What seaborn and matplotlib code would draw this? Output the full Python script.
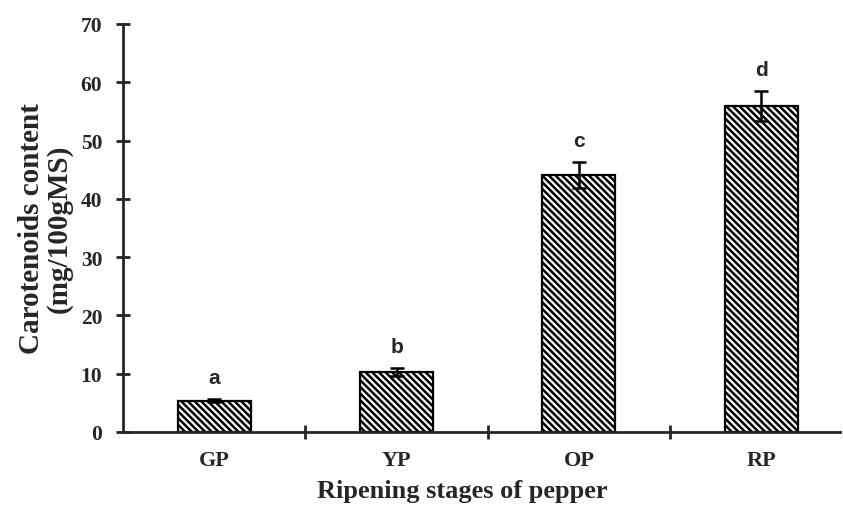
import matplotlib
matplotlib.use("Agg")
import matplotlib.pyplot as plt
import seaborn as sns
import pandas as pd

stages = ["GP", "YP", "OP", "RP"]
carotenoids = [5.4, 10.3, 44.1, 55.9]
errors = [0.3, 0.7, 2.2, 2.6]
letters = ["a", "b", "c", "d"]

sns.set_style("ticks")
plt.rcParams["font.family"] = ["Liberation Serif", "DejaVu Serif"]
plt.rcParams["hatch.linewidth"] = 1.8

df = pd.DataFrame({"stage": stages, "value": carotenoids})

fig = plt.figure(figsize=(8.43, 5.10), dpi=100)
ax = fig.add_axes([0.146, 0.151, 0.85, 0.80])
sns.barplot(data=df, x="stage", y="value", ax=ax, color="white",
            edgecolor="black", linewidth=1.6, width=0.4, errorbar=None)
for p in ax.patches:
    p.set_hatch("\\\\\\\\\\")
ax.errorbar(range(len(stages)), carotenoids, yerr=errors, fmt="none",
            ecolor="black", elinewidth=1.8, capsize=5, capthick=1.8)
for i, (v, e, l) in enumerate(zip(carotenoids, errors, letters)):
    ax.text(i, v + e + 2.0, l, ha="center", va="bottom", fontsize=15,
            fontweight="bold", family=["Liberation Sans", "DejaVu Sans"])

ax.set_ylim(0, 70)
ax.set_yticks(range(0, 71, 10))
ax.set_xlim(-0.5, 3.43)
ax.set_xticks([0.5, 1.5, 2.5])
ax.set_xticklabels([])
ax.set_xticks(range(len(stages)), minor=True)
ax.set_xticklabels(stages, minor=True)
ax.tick_params(axis="x", which="minor", length=0, labelsize=16, pad=13)
ax.tick_params(axis="x", which="major", direction="inout", length=10, width=2)
ax.tick_params(axis="y", direction="inout", length=10, width=2, labelsize=15.5, pad=10)
for lab in ax.get_xticklabels(minor=True) + ax.get_yticklabels():
    lab.set_fontweight("bold")
sns.despine(ax=ax)
ax.spines["left"].set_linewidth(2)
ax.spines["bottom"].set_linewidth(2)
ax.set_xlabel("Ripening stages of pepper", fontsize=19, fontweight="bold", labelpad=4)
ax.xaxis.set_label_coords(0.474, -0.115)
ax.set_ylabel("Carotenoids content\n(mg/100gMS)", fontsize=21, fontweight="bold",
              labelpad=6, linespacing=1.0)

fig.savefig("out.png", dpi=100)
